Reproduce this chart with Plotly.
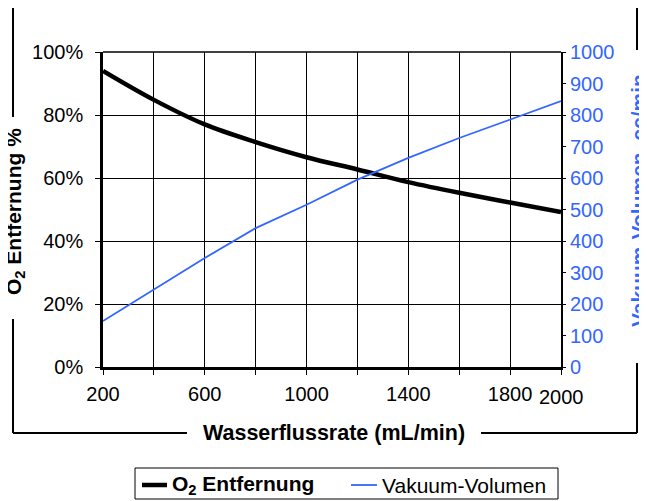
import plotly.graph_objects as go

# ---- data ----
flow = [200, 400, 600, 800, 1000, 1200, 1400, 1600, 1800, 2000]
o2_removal = [0.94, 0.848, 0.77, 0.714, 0.666, 0.627, 0.587, 0.553, 0.522, 0.492]
vacuum_volume = [146, 245, 346, 441, 515, 595, 664, 727, 785, 844]

x_tick_vals = [200, 400, 600, 800, 1000, 1200, 1400, 1600, 1800, 2000]
x_tick_text = ["200", "", "600", "", "1000", "", "1400", "", "1800", ""]

BLUE = "#3366FF"
FONT = "Liberation Sans, Arial, sans-serif"

OFF = 8  # page body margin in the browser
W, H = 647 - OFF, 501 - OFF
L, R, T, B = 103, 561, 52, 367  # plot area box in screen pixels


def px(x):
    return (x - L) / (R - L)


def py(y):
    return (B - y) / (B - T)


fig = go.Figure()
fig.add_trace(go.Scatter(x=flow, y=o2_removal, mode="lines", name="O2 Entfernung",
                         line=dict(color="black", width=4.5, shape="spline"),
                         showlegend=False))
fig.add_trace(go.Scatter(x=flow, y=vacuum_volume, mode="lines", name="Vakuum-Volumen",
                         yaxis="y2", line=dict(color=BLUE, width=1.8),
                         showlegend=False))

fig.update_layout(
    width=W, height=H,
    margin=dict(l=L - OFF, r=W - (R - OFF), t=T - OFF, b=H - (B - OFF), pad=0),
    paper_bgcolor="white", plot_bgcolor="white",
    font=dict(family=FONT, size=20, color="black"),
    xaxis=dict(range=[200, 2000], tickvals=x_tick_vals, ticktext=x_tick_text,
               ticks="outside", ticklen=5, tickcolor="black", tickwidth=1,
               showgrid=True, gridcolor="black", gridwidth=1,
               showline=True, linecolor="black", linewidth=2.5, mirror=False,
               zeroline=False, tickfont=dict(size=20), ticklabelstandoff=2),
    yaxis=dict(range=[0, 1], dtick=0.2, tickformat=".0%",
               ticks="outside", ticklen=5, tickcolor="black",
               showgrid=True, gridcolor="black", gridwidth=1,
               showline=True, linecolor="black", linewidth=2.5,
               zeroline=False, tickfont=dict(size=20), ticklabelstandoff=8),
    yaxis2=dict(range=[0, 1000], dtick=100, overlaying="y", side="right",
                ticks="outside", ticklen=3, tickcolor="black",
                showgrid=False, showline=True, linecolor="black", linewidth=2,
                zeroline=False, tickfont=dict(size=20, color=BLUE), ticklabelstandoff=0),
)

# top border of plot area
fig.add_shape(type="line", xref="paper", yref="paper", x0=0, x1=1, y0=1, y1=1,
              line=dict(color="black", width=1.5))

# outer frame with gaps for axis titles
frame = [
    (13, 3, 637, 3),
    (13, 3, 13, 117), (13, 319, 13, 433),
    (13, 433, 187, 433), (481, 433, 637, 433),
    (637, 3, 637, 50), (637, 363, 637, 433),
]
for x0, y0, x1, y1 in frame:
    fig.add_shape(type="line", xref="paper", yref="paper",
                  x0=px(x0), y0=py(y0), x1=px(x1), y1=py(y1),
                  line=dict(color="black", width=2))

# axis titles
fig.add_annotation(text="<b>Wasserflussrate (mL/min)</b>", xref="paper", yref="paper",
                   x=px(334), y=py(433), showarrow=False, font=dict(size=21.5),
                   xanchor="center", yanchor="middle")
fig.add_annotation(text="<b>O<sub>2</sub> Entfernung %</b>", xref="paper", yref="paper",
                   x=px(15), y=py(212), showarrow=False, textangle=-90,
                   font=dict(size=21), xanchor="center", yanchor="middle")
fig.add_annotation(text="<b>Vakuum-Volumen. cc/min</b>", xref="paper", yref="paper",
                   x=px(638), y=py(201), showarrow=False, textangle=-90,
                   font=dict(size=21, color=BLUE), xanchor="center", yanchor="middle")
# last x tick label, set slightly lower as in reference
fig.add_annotation(text=str(x_tick_vals[-1]), xref="x", yref="paper",
                   x=x_tick_vals[-1], y=py(397), showarrow=False,
                   font=dict(size=20), xanchor="center", yanchor="middle")

# legend (manual)
fig.add_shape(type="rect", xref="paper", yref="paper",
              x0=px(135), y0=py(468), x1=px(558), y1=py(499),
              line=dict(color="black", width=1), fillcolor="white")
fig.add_shape(type="line", xref="paper", yref="paper",
              x0=px(142), y0=py(485), x1=px(167), y1=py(485),
              line=dict(color="black", width=4.5))
fig.add_annotation(text="<b>O<sub>2</sub> Entfernung</b>", xref="paper", yref="paper",
                   x=px(170), y=py(485), showarrow=False, xanchor="left", yanchor="middle",
                   font=dict(size=21))
fig.add_shape(type="line", xref="paper", yref="paper",
              x0=px(351), y0=py(485), x1=px(377), y1=py(485),
              line=dict(color=BLUE, width=1.8))
fig.add_annotation(text="Vakuum-Volumen", xref="paper", yref="paper",
                   x=px(380), y=py(485), showarrow=False, xanchor="left", yanchor="middle",
                   font=dict(size=21))

fig.write_html("out.html")
